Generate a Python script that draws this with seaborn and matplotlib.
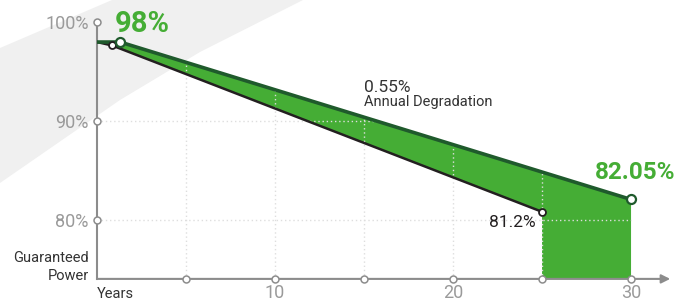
import numpy as np
import pandas as pd
import matplotlib
matplotlib.use('Agg')
import matplotlib.pyplot as plt
from matplotlib.patches import Polygon
import seaborn as sns

# guaranteed power curves (year, % of nominal power)
years_upper = [0, 1.3, 30]
power_upper = [98, 98, 82.05]
years_lower = [0, 0.85, 25]
power_lower = [98, 97.65, 80.8]

x_ticks = [10, 20, 30]
x_tick_circles = [5, 10, 15, 20, 25, 30]
y_ticks = [80, 90, 100]
y_tick_labels = ['80%', '90%', '100%']
grid_x = [5, 10, 15, 20, 25]
grid_y = [80, 90]

GREEN = '#45ad35'
DARK_GREEN = '#1f5a2c'
DARK = '#231f20'
GRAY = '#8c8c8c'
LABEL_GRAY = '#9a9a9a'

sns.set_theme(style='white')
plt.rcParams['font.family'] = ['Roboto', 'DejaVu Sans']

fig = plt.figure(figsize=(6.88, 3.04), dpi=100)

# light grey swoosh in the background
band = [(0, 48), (112, 0), (303, 0), (200, 52), (120, 100), (0, 183)]
band = [(x / 688, 1 - y / 304) for x, y in band]
fig.patches.append(Polygon(band, closed=True, transform=fig.transFigure,
                           facecolor='#f0f0f0', edgecolor='none', zorder=-1))

ax = fig.add_axes([97 / 688, 1 - 278.9 / 304, 573.2 / 688, 256.6 / 304])
ax.patch.set_alpha(0)
ymin, ymax = 74, 100
ax.set_xlim(0, 32.2)
ax.set_ylim(ymin, ymax)

# green area between the curves, full area after year 25
fx = np.concatenate([years_upper, [years_upper[-1], years_lower[-1]], years_lower[::-1]])
fy = np.concatenate([power_upper, [ymin, ymin], power_lower[::-1]])
ax.fill(fx, fy, color=GREEN, lw=0, zorder=2)

# dotted grid, only below the upper curve
for gx in grid_x:
    ax.vlines(gx, ymin, np.interp(gx, years_upper, power_upper), colors='#dedede',
              linestyles=(0, (1, 2)), lw=1, zorder=3)
for gy in grid_y:
    xe = np.interp(gy, power_upper[::-1], years_upper[::-1])
    ax.hlines(gy, 0, xe, colors='#dedede', linestyles=(0, (1, 2)), lw=1, zorder=3)

df_up = pd.DataFrame({'year': years_upper, 'power': power_upper})
df_lo = pd.DataFrame({'year': years_lower, 'power': power_lower})
sns.lineplot(data=df_lo, x='year', y='power', color=DARK, lw=1.8, ax=ax,
             sort=False, estimator=None, zorder=4)
sns.lineplot(data=df_up, x='year', y='power', color=DARK_GREEN, lw=2.6, ax=ax,
             sort=False, estimator=None, zorder=5)
ax.plot(years_lower[1:], power_lower[1:], 'o', ms=5, mfc='white', mec=DARK,
        mew=1.3, zorder=6, clip_on=False)
ax.plot(years_upper[1:], power_upper[1:], 'o', ms=6.5, mfc='white', mec=DARK_GREEN,
        mew=1.6, zorder=7, clip_on=False)

# axes
for s in ['top', 'right', 'bottom']:
    ax.spines[s].set_visible(False)
ax.spines['left'].set_color(GRAY)
ax.spines['left'].set_linewidth(1.5)
ax.annotate('', xy=(32.2, ymin), xytext=(0, ymin), annotation_clip=False,
            arrowprops=dict(arrowstyle='-|>', color=GRAY, lw=1.5,
                            mutation_scale=13, shrinkA=0, shrinkB=0))
ax.plot(x_tick_circles, [ymin] * len(x_tick_circles), 'o', ms=5, mfc='white',
        mec=GRAY, mew=1.1, zorder=8, clip_on=False)
ax.plot([0] * len(y_ticks), y_ticks, 'o', ms=5, mfc='white',
        mec=GRAY, mew=1.1, zorder=8, clip_on=False)

ax.set_xticks(x_ticks)
ax.set_xticklabels([str(t) for t in x_ticks])
ax.set_yticks(y_ticks)
ax.set_yticklabels(y_tick_labels)
ax.tick_params(axis='both', length=0, labelsize=13, labelcolor=LABEL_GRAY)
ax.tick_params(axis='x', pad=4)
ax.tick_params(axis='y', pad=6)
ax.set_xlabel('')
ax.set_ylabel('')

# annotations
ax.text(1.0, 99.0, '98%', color=GREEN, fontsize=21, fontweight='bold',
        ha='left', va='baseline', clip_on=False)
ax.text(27.98, 84.1, '82.05%', color=GREEN, fontsize=17.5, fontweight='bold',
        ha='left', va='baseline')
ax.text(24.66, 79.23, '81.2%', color=DARK, fontsize=12.5, ha='right', va='baseline')
ax.text(15.0, 92.9, '0.55%', color='#333333', fontsize=12.5, ha='left', va='baseline')
ax.text(15.0, 91.52, 'Annual Degradation', color='#333333', fontsize=10.5,
        ha='left', va='baseline')
ax.text(-0.45, 75.74, 'Guaranteed', color='#333333', fontsize=10.5, ha='right',
        va='baseline', clip_on=False)
ax.text(-0.45, 73.88, 'Power', color='#333333', fontsize=10.5, ha='right',
        va='baseline', clip_on=False)
ax.text(0, 72.07, 'Years', color='#333333', fontsize=10.5, ha='left',
        va='baseline', clip_on=False)

fig.savefig('out.png', dpi=100)
